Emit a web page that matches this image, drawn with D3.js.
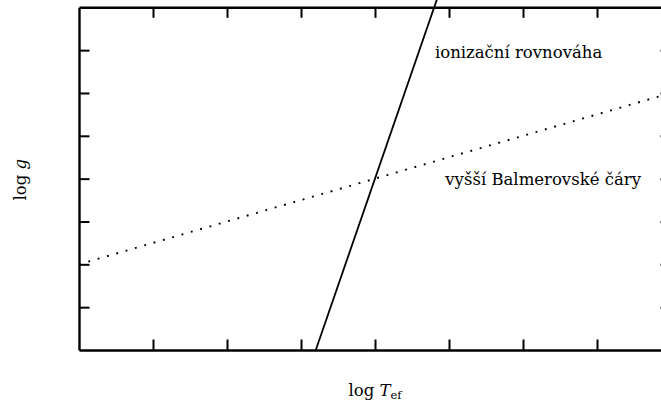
<!DOCTYPE html>
<html>
<head>
<meta charset="utf-8">
<script src="https://cdn.jsdelivr.net/npm/d3@7"></script>
<style>
  html, body { margin: 0; padding: 0; background: #fff; }
  svg { display: block; }
  text { font-family: "DejaVu Serif", "Liberation Serif", serif; fill: #000; }
</style>
</head>
<body>
<svg id="chart" width="661" height="412"></svg>
<script>
// Schematic diagram: log g versus log T_ef, unlabeled tick marks
const xTicks = [1, 2, 3, 4, 5, 6, 7];
const yTicks = [1, 2, 3, 4, 5, 6, 7];

// Ionization-equilibrium line (steep, solid)
const ionLogT = [3.2, 4.9];
const ionLogG = [0, 8.5];

// Higher Balmer lines criterion (shallow, dotted)
const balmerLogT = [0, 7.9];
const balmerLogG = [2, 5.95];

const labels = ["ionizační rovnováha", "vyšší Balmerovské čáry"];
const xTitle = "log ";
const xTitleVar = "T";
const xTitleSub = "ef";
const yTitle = "log ";
const yTitleVar = "g";

const svg = d3.select("#chart");
const plotLeft = 79, plotTop = 7.3, plotBottom = 350, plotRight = 671;

const x = d3.scaleLinear().domain([0, 8]).range([plotLeft, plotRight]);
const y = d3.scaleLinear().domain([0, 8]).range([plotBottom, plotTop]);

const tickLen = 10.5;
function styleAxis(g) {
  g.select(".domain").attr("stroke", "#000").attr("stroke-width", 2.4);
  g.selectAll(".tick line").attr("stroke", "#000").attr("stroke-width", 2);
  g.selectAll(".tick text").remove();
}

svg.append("g").attr("transform", `translate(0,${plotBottom})`)
  .call(d3.axisBottom(x).tickValues(xTicks).tickSizeInner(-tickLen).tickSizeOuter(0).tickFormat(""))
  .call(styleAxis);
svg.append("g").attr("transform", `translate(0,${plotTop})`)
  .call(d3.axisTop(x).tickValues(xTicks).tickSizeInner(-tickLen).tickSizeOuter(0).tickFormat(""))
  .call(styleAxis);
svg.append("g").attr("transform", `translate(${plotLeft},0)`)
  .call(d3.axisLeft(y).tickValues(yTicks).tickSizeInner(-tickLen).tickSizeOuter(0).tickFormat(""))
  .call(styleAxis);
svg.append("g").attr("transform", `translate(${plotRight},0)`)
  .call(d3.axisRight(y).tickValues(yTicks).tickSizeInner(-tickLen).tickSizeOuter(0).tickFormat(""))
  .call(styleAxis);

const line = d3.line().x(d => x(d[0])).y(d => y(d[1]));

// dotted Balmer line
svg.append("path")
  .datum(d3.zip(balmerLogT, balmerLogG))
  .attr("d", line)
  .attr("fill", "none")
  .attr("stroke", "#000")
  .attr("stroke-width", 1.9)
  .attr("stroke-dasharray", "1.9 7.8");

// solid ionization line
svg.append("path")
  .datum(d3.zip(ionLogT, ionLogG))
  .attr("d", line)
  .attr("fill", "none")
  .attr("stroke", "#000")
  .attr("stroke-width", 1.8);

// curve labels
svg.append("text")
  .attr("x", x(4.81)).attr("y", y(6.82))
  .attr("font-size", 16.5)
  .text(labels[0]);
svg.append("text")
  .attr("x", x(4.95)).attr("y", y(3.85))
  .attr("font-size", 16.5)
  .text(labels[1]);

// axis titles
const xt = svg.append("text")
  .attr("x", (plotLeft + plotRight) / 2).attr("y", 396)
  .attr("text-anchor", "middle")
  .attr("font-size", 16.5);
xt.append("tspan").text(xTitle);
xt.append("tspan").attr("font-style", "italic").text(xTitleVar);
xt.append("tspan").attr("font-size", 11.5).attr("dy", 3).text(xTitleSub);

const yt = svg.append("text")
  .attr("transform", `translate(26,${(plotTop + plotBottom) / 2 + 1}) rotate(-90)`)
  .attr("text-anchor", "middle")
  .attr("font-size", 16.5);
yt.append("tspan").text(yTitle);
yt.append("tspan").attr("font-style", "italic").text(yTitleVar);
</script>
</body>
</html>
